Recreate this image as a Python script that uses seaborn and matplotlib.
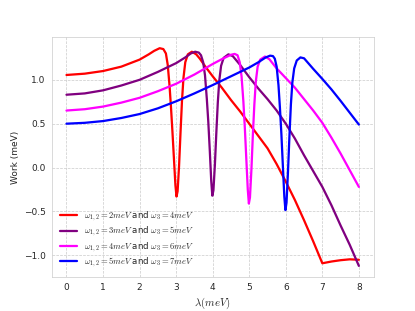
import matplotlib
matplotlib.use("Agg")
import matplotlib.pyplot as plt
import seaborn as sns

# work curves, lambda in meV
lam_2 = [0, 0.5, 1, 1.5, 2, 2.25, 2.4, 2.55, 2.65, 2.72, 2.77, 2.82, 2.86, 2.9, 2.94, 2.98,
         3.01, 3.04, 3.08, 3.12, 3.16, 3.2, 3.25, 3.32, 3.43, 3.55, 3.65, 3.8, 4, 4.25, 4.5,
         4.75, 5, 5.25, 5.5, 5.75, 6, 6.25, 6.5, 6.75, 7, 7.25, 7.5, 7.75, 8]
work_2 = [1.055, 1.07, 1.10, 1.15, 1.23, 1.29, 1.33, 1.36, 1.35, 1.30, 1.17, 0.93, 0.68,
          0.40, 0.10, -0.20, -0.33, -0.27, 0.02, 0.40, 0.76, 1.02, 1.20, 1.29, 1.32, 1.29,
          1.24, 1.15, 1.04, 0.91, 0.77, 0.64, 0.50, 0.36, 0.22, 0.04, -0.16, -0.37, -0.60,
          -0.84, -1.09, -1.07, -1.055, -1.045, -1.05]

lam_3 = [0, 0.5, 1, 1.5, 2, 2.5, 3, 3.25, 3.4, 3.52, 3.62, 3.68, 3.74, 3.79, 3.84, 3.88,
         3.92, 3.96, 3.99, 4.02, 4.06, 4.1, 4.14, 4.18, 4.23, 4.3, 4.43, 4.55, 4.75, 5,
         5.25, 5.5, 5.75, 6, 6.25, 6.5, 6.75, 7, 7.25, 7.5, 7.75, 8]
work_3 = [0.83, 0.845, 0.88, 0.935, 1.0, 1.09, 1.19, 1.255, 1.30, 1.32, 1.31, 1.28, 1.20,
          1.05, 0.78, 0.52, 0.20, -0.15, -0.32, -0.26, 0.03, 0.40, 0.74, 0.99, 1.16, 1.25,
          1.29, 1.27, 1.17, 1.03, 0.90, 0.78, 0.65, 0.50, 0.33, 0.14, -0.04, -0.22, -0.43,
          -0.66, -0.88, -1.12]

lam_4 = [0, 0.5, 1, 1.5, 2, 2.5, 3, 3.5, 4, 4.25, 4.5, 4.6, 4.68, 4.74, 4.79, 4.84, 4.88,
         4.92, 4.96, 4.99, 5.02, 5.06, 5.1, 5.14, 5.18, 5.23, 5.3, 5.43, 5.55, 5.75, 6,
         6.25, 6.5, 6.75, 7, 7.25, 7.5, 7.75, 8]
work_4 = [0.65, 0.665, 0.695, 0.74, 0.795, 0.87, 0.955, 1.06, 1.18, 1.235, 1.285, 1.295,
          1.28, 1.20, 1.04, 0.75, 0.45, 0.10, -0.25, -0.41, -0.34, -0.02, 0.38, 0.72, 0.98,
          1.15, 1.23, 1.265, 1.235, 1.13, 1.02, 0.91, 0.78, 0.65, 0.51, 0.34, 0.16, -0.03,
          -0.22]

lam_5 = [0, 0.5, 1, 1.5, 2, 2.5, 3, 3.5, 4, 4.5, 5, 5.25, 5.45, 5.57, 5.65, 5.7, 5.75, 5.8,
         5.84, 5.88, 5.92, 5.96, 5.99, 6.02, 6.06, 6.1, 6.14, 6.18, 6.23, 6.3, 6.4, 6.5,
         6.75, 7, 7.25, 7.5, 7.75, 8]
work_5 = [0.5, 0.51, 0.53, 0.565, 0.61, 0.675, 0.755, 0.845, 0.94, 1.04, 1.14, 1.20, 1.255,
          1.275, 1.27, 1.24, 1.15, 0.94, 0.68, 0.38, 0.02, -0.33, -0.485, -0.40, -0.05,
          0.36, 0.72, 0.97, 1.13, 1.22, 1.255, 1.245, 1.125, 1.01, 0.89, 0.76, 0.625, 0.49]

labels = [r"$\omega_{1,2}=2meV$ and $\omega_3=4meV$",
          r"$\omega_{1,2}=3meV$ and $\omega_3=5meV$",
          r"$\omega_{1,2}=4meV$ and $\omega_3=6meV$",
          r"$\omega_{1,2}=5meV$ and $\omega_3=7meV$"]
colors = ["red", "purple", "magenta", "blue"]

sns.set_style("whitegrid", {"grid.linestyle": "--", "axes.edgecolor": ".8"})
plt.rcParams["mathtext.fontset"] = "cm"

fig, ax = plt.subplots(figsize=(415 / 65, 311 / 65), dpi=65)

curves = [(lam_2, work_2), (lam_3, work_3), (lam_4, work_4), (lam_5, work_5)]
for (lam, work), lab, col in zip(curves, labels, colors):
    sns.lineplot(x=lam, y=work, color=col, linewidth=2.5, label=lab, ax=ax)

ax.set_xlabel(r"$\lambda (meV)$", fontsize=12)
ax.set_ylabel("Work (meV)", fontsize=10)
ax.tick_params(labelsize=10)
ax.legend(loc="lower left", frameon=False, fontsize=9.5, labelspacing=0.2)

fig.savefig("out.png", dpi=65)
